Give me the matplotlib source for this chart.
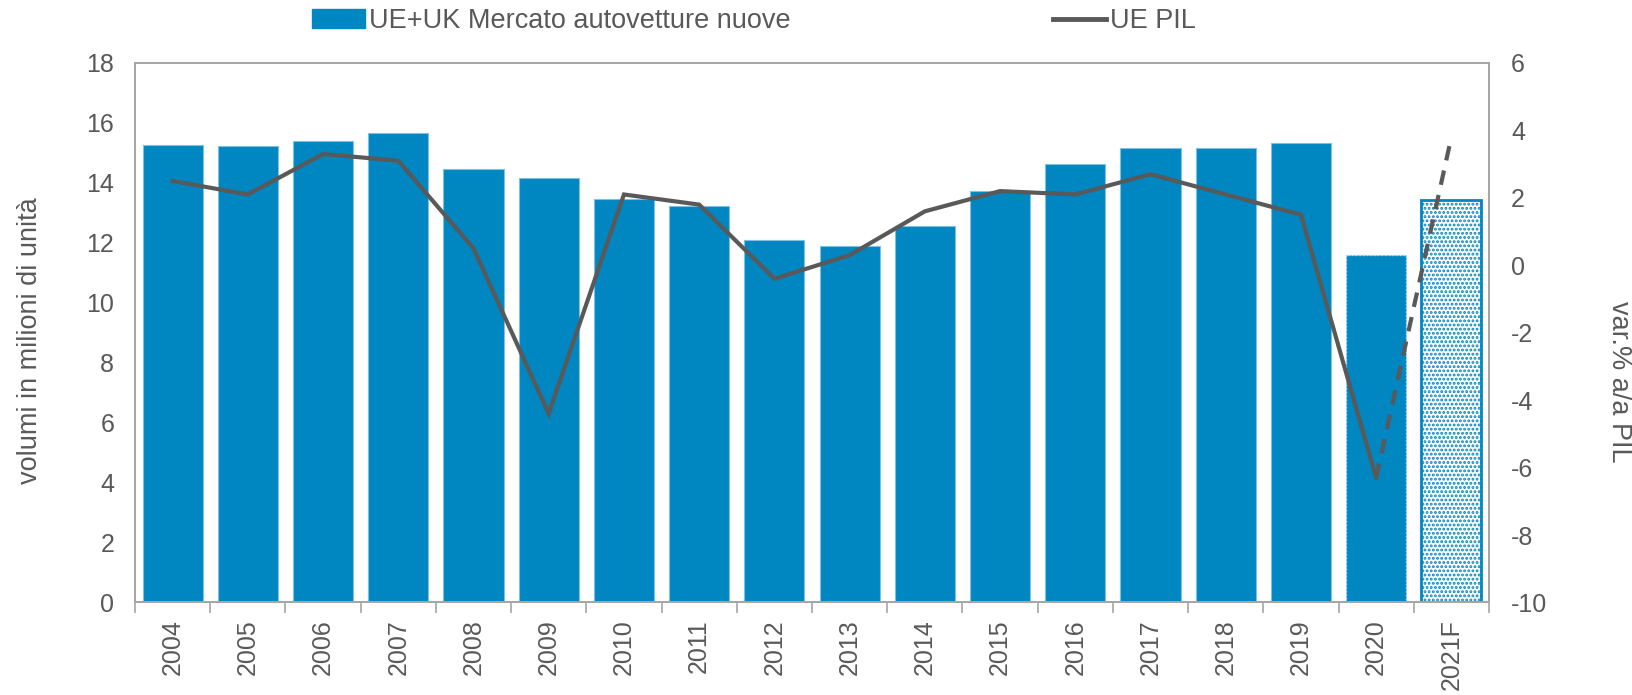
import numpy as np
import matplotlib.pyplot as plt
from matplotlib.patches import Patch
from matplotlib.lines import Line2D

plt.rcParams['font.family'] = ['Liberation Sans', 'DejaVu Sans']
plt.rcParams['axes.unicode_minus'] = False
plt.rcParams['hatch.linewidth'] = 1.4

anni = ['2004', '2005', '2006', '2007', '2008', '2009', '2010', '2011', '2012',
        '2013', '2014', '2015', '2016', '2017', '2018', '2019', '2020', '2021F']
mercato = [15.26, 15.22, 15.40, 15.67, 14.46, 14.15, 13.46, 13.22, 12.11,
           11.90, 12.56, 13.74, 14.64, 15.16, 15.16, 15.33, 11.59, 13.43]
pil = [2.5, 2.1, 3.3, 3.1, 0.5, -4.4, 2.1, 1.8, -0.4,
       0.3, 1.6, 2.2, 2.1, 2.7, 2.1, 1.5, -6.3, 3.8]

blu = '#0086C0'
grigio = '#595959'
testo = '#595959'
asse = '#A6A6A6'
fs = 19.5   # titoli e legenda
ft = 18     # etichette assi

fig = plt.figure(figsize=(16.33, 6.95), dpi=100)
ax = fig.add_axes([0.0827, 0.1331, 0.8291, 0.7763])
x = np.arange(len(anni))

# barre storiche
ax.bar(x[:16], mercato[:16], width=0.8, color=blu, edgecolor='#7CC0E2', linewidth=0.8)
# 2020 con bordo punteggiato
ax.bar(x[16], mercato[16], width=0.8, color=blu, edgecolor='#BFE0F0', linewidth=1, linestyle=':')
# 2021F previsione, retinato
ax.bar(x[17], mercato[17], width=0.8, color='white', edgecolor=blu, linewidth=2, hatch='....')

ax.set_xlim(-0.5, len(anni) - 0.5)
ax.set_ylim(0, 18)
ax.set_yticks(range(0, 19, 2))
ax.set_xticks(x)
ax.set_xticklabels(anni, rotation=90)
ax.set_xticks(np.arange(-0.5, len(anni), 1), minor=True)
ax.tick_params(axis='x', which='major', length=0, pad=12, labelsize=ft, labelcolor=testo)
ax.tick_params(axis='x', which='minor', length=8, color=asse, width=1.2)
ax.tick_params(axis='y', length=0, pad=15, labelsize=ft, labelcolor=testo)
for s in ax.spines.values():
    s.set_color(asse)
    s.set_linewidth(1.3)

ax2 = ax.twinx()
ax2.plot(x[:17], pil[:17], color=grigio, linewidth=3, solid_joinstyle='miter')
ax2.plot(x[16:], pil[16:], color=grigio, linewidth=3, linestyle=(0, (3.5, 2.5)))
ax2.set_ylim(-10, 6)
ax2.set_yticks(range(-10, 7, 2))
ax2.tick_params(axis='y', length=0, pad=16, labelsize=ft, labelcolor=testo)
for s in ax2.spines.values():
    s.set_color(asse)
    s.set_linewidth(1.3)

# titoli assi
fig.text(30 / 1633, 1 - 341 / 695, 'volumi in milioni di unità', rotation=90,
         ha='center', va='center', fontsize=fs, color=testo)
fig.text(1619 / 1633, 1 - 382 / 695, 'var.% a/a PIL', rotation=270,
         ha='center', va='center', fontsize=fs, color=testo)

handles = [Patch(facecolor=blu, edgecolor=blu),
           Line2D([0], [0], color=grigio, linewidth=3.5)]
fig.legend(handles, ['UE+UK Mercato autovetture nuove', 'UE PIL'],
           loc='center left', bbox_to_anchor=(312 / 1633, 1 - 21 / 695), ncol=2,
           frameon=False, fontsize=fs, labelcolor=testo, handlelength=1.95,
           handleheight=0.7, handletextpad=0.15, columnspacing=9.7,
           borderaxespad=0, borderpad=0)

fig.savefig('out.png', dpi=100)
